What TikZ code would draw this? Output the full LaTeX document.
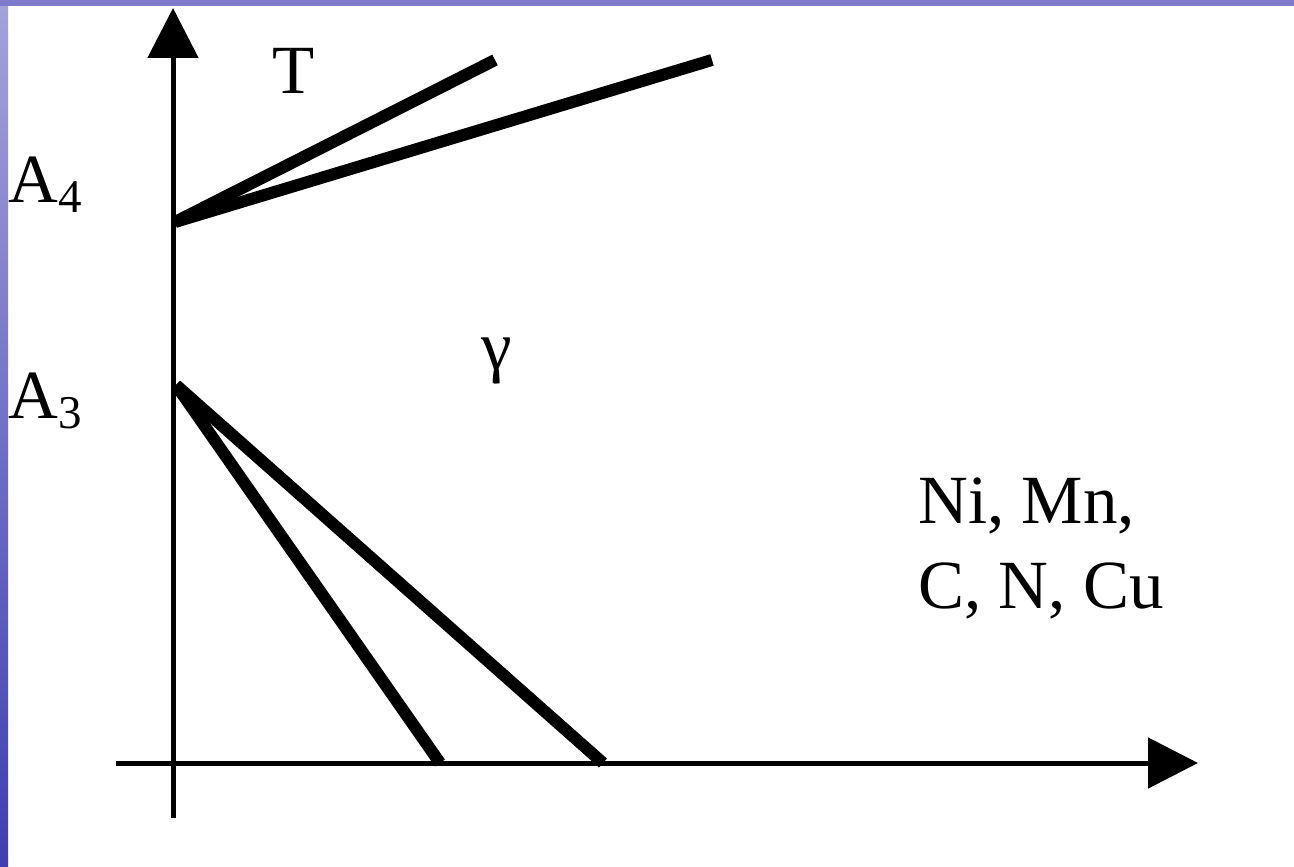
\documentclass[tikz,border=0pt]{standalone}
\usepackage{fontspec}
\setmainfont{Liberation Serif}
\usetikzlibrary{arrows.meta}
\definecolor{stripTop}{RGB}{126,122,204}
\definecolor{leftTop}{RGB}{165,163,218}
\definecolor{leftBot}{RGB}{62,62,178}
\tikzset{
  axis/.style={line width=5pt, -{Triangle[length=50pt,width=50pt]}},
  phaseline/.style={line width=12pt, line cap=butt},
  lbl/.style={anchor=base west, inner sep=0pt, font=\fontsize{69}{85}\selectfont},
}
\newcommand{\sbs}[1]{\raisebox{-10pt}{\fontsize{47}{47}\selectfont #1}}
\begin{document}
\begin{tikzpicture}[x=1pt,y=-1pt]
\useasboundingbox (0,0) rectangle (1294,867);
\fill[white] (0,0) rectangle (1294,867);
\shade[top color=leftTop, bottom color=leftBot] (0,0) rectangle (8,867);
\fill[stripTop] (0,0) rectangle (1294,6);
% axes
\coordinate (ybot) at (173,818);
\coordinate (ytop) at (173,8);
\coordinate (xleft) at (116,763);
\coordinate (xright) at (1198,763);
\draw[axis] (ybot) -- (ytop);
\draw[axis] (xleft) -- (xright);
% phase boundaries
\coordinate (A4p) at (175,222);
\coordinate (u1) at (495,60);
\coordinate (u2) at (712,60);
\coordinate (A3p) at (176,385);
\coordinate (l1) at (440,763);
\coordinate (l2) at (603,763);
\draw[phaseline] (A4p) -- (u1);
\draw[phaseline] (A4p) -- (u2);
\draw[phaseline] (A3p) -- (l1);
\draw[phaseline] (A3p) -- (l2);
% labels
\node[lbl] (T) at (272,93) {T};
\node[lbl] (A4) at (8,202) {A\sbs{4}};
\node[lbl] (A3) at (8,418) {A\sbs{3}};
\node[lbl] (gamma) at (481,369) {γ};
\node[lbl] (el1) at (918,523) {Ni, Mn,};
\node[lbl] (el2) at (918,608) {C, N, Cu};
\end{tikzpicture}
\end{document}
